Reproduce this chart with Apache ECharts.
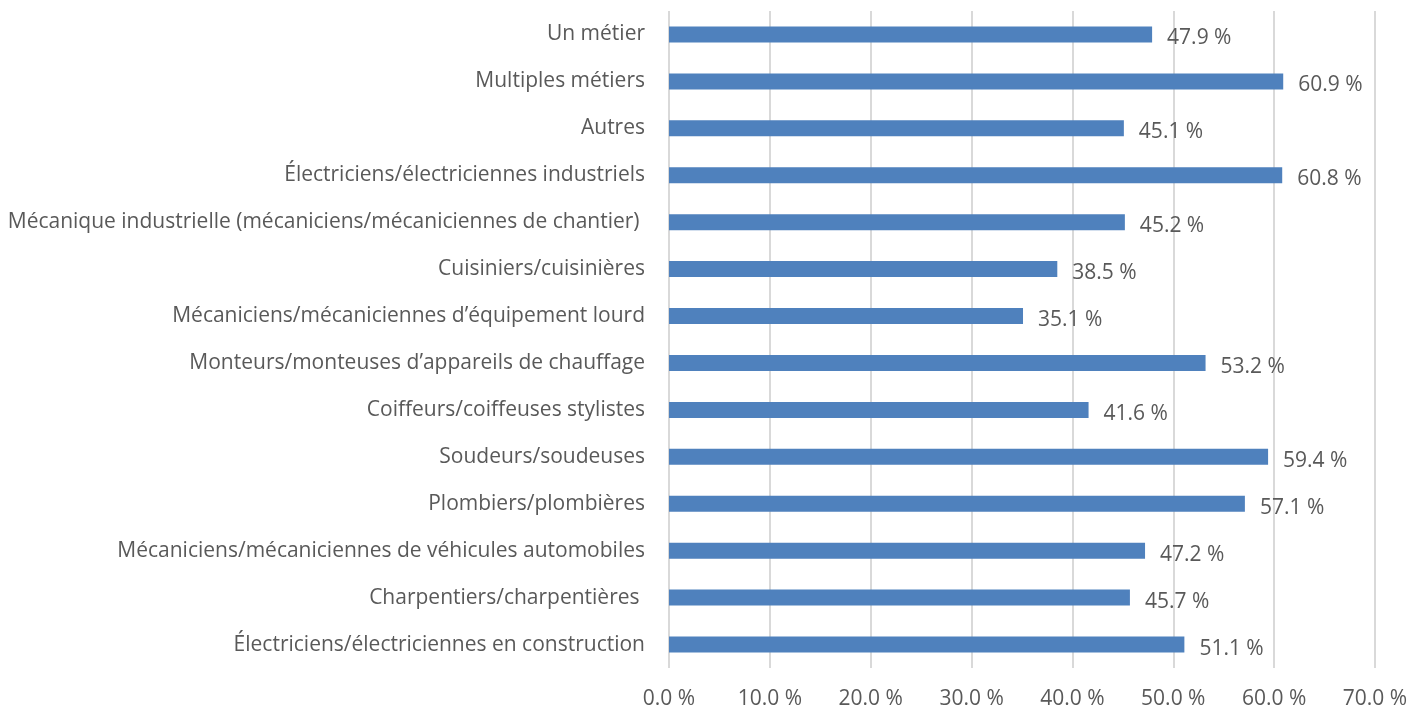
<!DOCTYPE html>
<html>
<head>
<meta charset="utf-8">
<script src="https://cdn.jsdelivr.net/npm/echarts@6/dist/echarts.min.js"></script>
<style>
  html, body { margin: 0; padding: 0; background: #fff; }
  #chart { width: 1426px; height: 710px; }
</style>
</head>
<body>
<div id="chart"></div>
<script>
// categories from bottom to top
var categories = [
    'Électriciens/électriciennes en construction',
    'Charpentiers/charpentières ',
    'Mécaniciens/mécaniciennes de véhicules automobiles',
    'Plombiers/plombières',
    'Soudeurs/soudeuses',
    'Coiffeurs/coiffeuses stylistes',
    'Monteurs/monteuses d’appareils de chauffage',
    'Mécaniciens/mécaniciennes d’équipement lourd',
    'Cuisiniers/cuisinières',
    'Mécanique industrielle (mécaniciens/mécaniciennes de chantier) ',
    'Électriciens/électriciennes industriels',
    'Autres',
    'Multiples métiers',
    'Un métier'
];
var values = [51.1, 45.7, 47.2, 57.1, 59.4, 41.6, 53.2, 35.1, 38.5, 45.2, 60.8, 45.1, 60.9, 47.9];
var xTicks = [0, 10, 20, 30, 40, 50, 60, 70];

var font = '"Open Sans", "Liberation Sans", sans-serif';
var textColor = '#595959';

var chart = echarts.init(document.getElementById('chart'));
chart.setOption({
    backgroundColor: '#ffffff',
    animation: false,
    grid: { left: 669, right: 51, top: 11, bottom: 42, containLabel: false },
    xAxis: {
        type: 'value',
        min: xTicks[0],
        max: xTicks[xTicks.length - 1],
        interval: 10,
        axisLine: { show: false },
        axisTick: { show: false },
        splitLine: { show: true, lineStyle: { color: '#d9d9d9', width: 2 } },
        axisLabel: {
            margin: 21,
            color: textColor,
            fontFamily: font,
            fontSize: 21,
            formatter: function (v) { return v.toFixed(1) + ' %'; }
        }
    },
    yAxis: {
        type: 'category',
        data: categories,
        axisLine: { show: false },
        axisTick: { show: false },
        axisLabel: {
            margin: 24,
            color: textColor,
            fontFamily: font,
            fontSize: 21,
            padding: [3, 0, 0, 0]
        }
    },
    series: [{
        type: 'bar',
        data: values,
        barWidth: 16,
        itemStyle: { color: '#4f81bd' },
        label: {
            show: true,
            position: 'right',
            distance: 15,
            offset: [0, 4],
            color: textColor,
            fontFamily: font,
            fontSize: 21,
            formatter: function (p) { return p.value.toFixed(1) + ' %'; }
        }
    }]
});
</script>
</body>
</html>
